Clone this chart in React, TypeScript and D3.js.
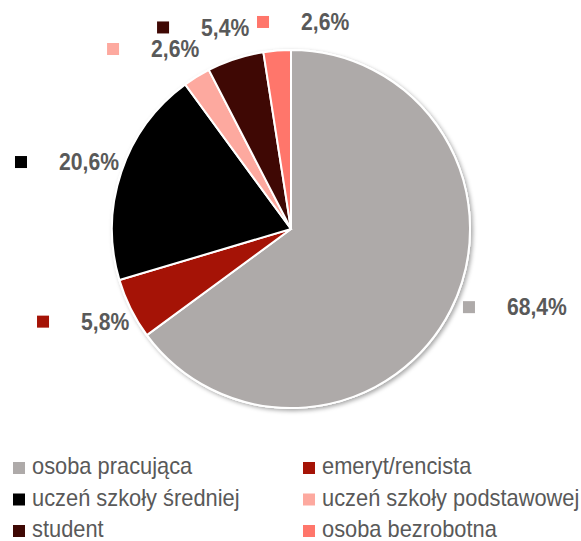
import * as d3 from "d3";

const categories = [
  "osoba pracująca",
  "emeryt/rencista",
  "uczeń szkoły średniej",
  "uczeń szkoły podstawowej",
  "student",
  "osoba bezrobotna",
];
const shares = [68.4, 5.8, 20.6, 2.6, 5.4, 2.6];
const labels = ["68,4%", "5,8%", "20,6%", "2,6%", "5,4%", "2,6%"];
const colors = ["#AEAAA9", "#A51306", "#000000", "#FDA99F", "#3F0804", "#FF766B"];

// hand nudges for the data labels, from the point just outside each slice
const labelNudge = [
  [1.5, -8],
  [-83, 7.5],
  [-95, -6],
  [-83.4, -17.6],
  [-74.6, -20],
  [-19.2, -16.6],
];

const width = 581;
const height = 541;
const cx = 291;
const cy = 229;
const radius = 179;
const font = "'Liberation Sans', Arial, sans-serif";
const textColor = "#595959";
// the original font is a bit narrower than Arial
const labelStretch = 0.92;
const legendStretch = 0.95;

export default function App() {
  const pie = d3
    .pie<number>()
    .sort(null)
    .value((d) => d)
    .startAngle(0)
    .endAngle(2 * Math.PI);
  const arcs = pie(shares);
  const arc = d3.arc<d3.PieArcDatum<number>>().innerRadius(0).outerRadius(radius);
  const outer = radius + 12;

  const legendCols = [13, 303];
  const legendRows = [474, 505.5, 537];

  return (
    <svg
      width={width}
      height={height}
      style={{ position: "absolute", left: 0, top: 0, background: "#fff" }}
    >
      <defs>
        <filter id="shadow" x="-10%" y="-10%" width="120%" height="120%">
          <feDropShadow dx="2" dy="2" stdDeviation="2" floodColor="#000" floodOpacity="0.35" />
        </filter>
      </defs>
      <g transform={`translate(${cx},${cy})`}>
        <circle r={radius} fill="#fff" stroke="#fff" strokeWidth={2} filter="url(#shadow)" />
        {arcs.map((a, i) => (
          <path key={i} d={arc(a) ?? ""} fill={colors[i]} stroke="#fff" strokeWidth={2} />
        ))}
      </g>
      <g>
        {arcs.map((a, i) => {
          const mid = (a.startAngle + a.endAngle) / 2;
          const x = cx + outer * Math.sin(mid) + labelNudge[i][0];
          const y = cy - outer * Math.cos(mid) + labelNudge[i][1];
          return (
            <g key={i}>
              <rect x={x} y={y - 6} width={12} height={12} fill={colors[i]} />
              <text
                transform={`translate(${x + 44},${y + 8.3}) scale(${labelStretch},1)`}
                fontFamily={font}
                fontWeight="bold"
                fontSize={23}
                fill={textColor}
              >
                {labels[i]}
              </text>
            </g>
          );
        })}
      </g>
      <g>
        {categories.map((c, i) => {
          const lx = legendCols[i % 2];
          const ly = legendRows[Math.floor(i / 2)];
          return (
            <g key={c}>
              <rect x={lx} y={ly - 12} width={12} height={12} fill={colors[i]} />
              <text
                transform={`translate(${lx + 19},${ly}) scale(${legendStretch},1)`}
                fontFamily={font}
                fontSize={23}
                fill={textColor}
              >
                {c}
              </text>
            </g>
          );
        })}
      </g>
    </svg>
  );
}
